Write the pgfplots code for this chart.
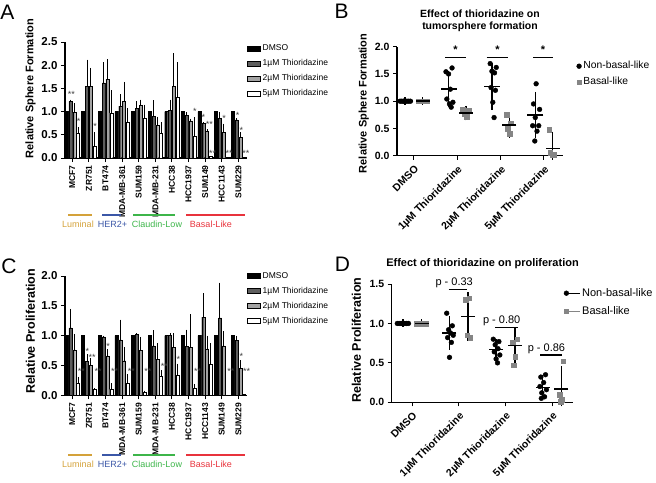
\documentclass[border=0pt]{standalone}
\usepackage{fontspec}
\setmainfont{Liberation Sans}
\newfontfamily\plainsf{Liberation Sans}
\usepackage{pgfplots}
\pgfplotsset{compat=1.18}
\usepackage{pgfplotstable}

\definecolor{g1}{HTML}{5E5E5E}
\definecolor{g2}{HTML}{A3A3A3}
\definecolor{ptgray}{HTML}{858585}
\definecolor{lum}{HTML}{D4A23A}
\definecolor{her}{HTML}{3B57A7}
\definecolor{cla}{HTML}{3DB54A}
\definecolor{bas}{HTML}{E8333C}

\pgfplotsset{
 gp/.style={
   scale only axis, clip=false,
   axis lines=left, axis line style={-, line width=1.1pt},
   tick align=outside, major tick length=4pt,
   tick style={line width=1pt, black},
   /pgf/number format/assume math mode=true,
   /pgf/number format/fixed, /pgf/number format/fixed zerofill, /pgf/number format/precision=1,
   yticklabel style={font=\bfseries\fontsize{11.5}{13}\selectfont},
 },
 barlegend/.style={legend image code/.code={\draw[line width=0.5pt, ##1] (0pt,-2.6pt) rectangle (13pt,2.6pt);}},
}
\tikzset{astk/.style={font=\fontsize{9}{9}\selectfont, text=black!75}}

% Panel A: relative sphere formation (value, error) per cell line
\pgfplotstableread{
g  a  b    be   c    ce   d    de
0  1  1.22 0.04 0.98 0.20 0.54 0.12
1  1  1.54 0.58 1.54 0.40 0.25 0.30
2  1  1.62 0.44 1.70 0.43 0.97 0.49
3  1  1.12 0.25 1.22 0.42 0.78 0.30
4  1  1.07 0.15 1.14 0.12 0.85 0.30
5  1  0.90 0.34 0.71 0.18 0.53 0.24
6  1  1.02 0.24 1.54 0.72 1.30 0.76
7  1  0.92 0.07 0.80 0.05 0.48 0.40
8  1  0.74 0.04 0.58 0.04 0.03 0.00
9  1  0.85 0.15 0.56 0.18 0.02 0.00
10 1  0.82 0.04 0.45 0.10 0.02 0.00
}\tabA

% Panel C: relative proliferation
\pgfplotstableread{
g  a  b    be   c    ce   d    de
0  1  1.13 0.32 0.76 0.27 0.21 0.10
1  1  0.57 0.12 0.50 0.12 0.10 0.02
2  1  0.98 0.02 0.66 0.12 0.10 0.10
3  1  0.93 0.34 0.58 0.23 0.20 0.16
4  1  1.02 0.02 0.75 0.23 0.05 0.03
5  1  0.83 0.26 0.60 0.28 0.32 0.10
6  1  1.00 0.04 0.80 0.24 0.33 0.20
7  1  0.82 0.28 0.80 0.56 0.12 0.07
8  1  1.31 0.40 0.78 0.22 0.52 0.36
9  1  1.30 0.59 0.83 0.24 0.01 0.00
10 1  0.92 0.08 0.45 0.14 0.02 0.00
}\tabC

\begin{document}
\begin{tikzpicture}
\path[use as bounding box] (0,0) rectangle (656pt,-482pt);

% ---------------- Panel A ----------------
\begin{axis}[gp, at={(65pt,-158pt)}, anchor=south west, width=182pt, height=116pt,
 xmin=-0.44, xmax=10.52, ymin=0, ymax=2.5,
 ytick={0,0.5,1,1.5,2,2.5}, xtick={0,...,10},
 xticklabels={MCF7,ZR751,BT474,MDA-MB-361,SUM159,MDA-MB-231,HCC38,HCC1937,SUM149,HCC1143,SUM229},
 xticklabel style={rotate=90, anchor=east, font=\plainsf\bfseries\fontsize{8.5}{9}\selectfont},
 ylabel={Relative Sphere Formation},
 ylabel style={at={(axis description cs:-0.19,0.6)}, anchor=center, font=\plainsf\bfseries\fontsize{11}{13}\selectfont},
 legend style={at={(1.0,1.0)}, anchor=north west, draw=none, fill=none, inner sep=0pt,
   font=\fontsize{8.5}{10}\selectfont, row sep=2.7pt, nodes={text height=6.5pt, text depth=1.8pt, inner sep=2pt}},
 legend cell align=left,
]
\addplot[ybar, bar width=3pt, bar shift=0pt, fill=black, draw=black, line width=0.4pt, barlegend]
  table[x expr=\thisrow{g}-0.345, y=a] {\tabA};
\addplot[ybar, bar width=3pt, bar shift=0pt, fill=g1, draw=black, line width=0.4pt, barlegend,
  error bars/.cd, y dir=plus, y explicit, error mark=none, error bar style={line width=0.8pt, black}]
  table[x expr=\thisrow{g}-0.115, y=b, y error=be] {\tabA};
\addplot[ybar, bar width=3pt, bar shift=0pt, fill=g2, draw=black, line width=0.4pt, barlegend,
  error bars/.cd, y dir=plus, y explicit, error mark=none, error bar style={line width=0.8pt, black}]
  table[x expr=\thisrow{g}+0.115, y=c, y error=ce] {\tabA};
\addplot[ybar, bar width=3pt, bar shift=0pt, fill=white, draw=black, line width=0.4pt, barlegend,
  error bars/.cd, y dir=plus, y explicit, error mark=none, error bar style={line width=0.8pt, black}]
  table[x expr=\thisrow{g}+0.345, y=d, y error=de] {\tabA};
\legend{DMSO, 1µM Thioridazine, 2µM Thioridazine, 5µM Thioridazine}
\node[astk] at (axis cs:-0.05,1.36) {**};
\node[astk] at (axis cs:0.38,0.78) {*};
\node[astk] at (axis cs:1.38,0.68) {*};
\node[astk] at (axis cs:7.38,1.0) {*};
\node[astk] at (axis cs:7.9,0.87) {*};
\node[astk] at (axis cs:8.25,0.72) {**};
\node[astk] at (axis cs:8.45,0.1) {**};
\node[astk] at (axis cs:9.15,0.85) {*};
\node[astk] at (axis cs:9.45,0.1) {**};
\node[astk] at (axis cs:9.95,0.92) {*};
\node[astk] at (axis cs:10.18,0.6) {*};
\node[astk] at (axis cs:10.45,0.1) {**};
\end{axis}

% ---------------- Panel C ----------------
\begin{axis}[gp, at={(65pt,-395.3pt)}, anchor=south west, width=182pt, height=119.3pt,
 xmin=-0.44, xmax=10.52, ymin=0, ymax=2,
 ytick={0,0.5,1,1.5,2}, xtick={0,...,10},
 xticklabels={MCF7,ZR751,BT474,MDA-MB-361,SUM159,MDA-MB-231,HCC38,HCC1937,HCC1143,SUM149,SUM229},
 xticklabel style={rotate=90, anchor=east, font=\plainsf\bfseries\fontsize{8.5}{9}\selectfont},
 ylabel={Relative Proliferation},
 ylabel style={at={(axis description cs:-0.19,0.535)}, anchor=center, font=\plainsf\bfseries\fontsize{12.5}{14}\selectfont},
 legend style={at={(1.0,1.055)}, anchor=north west, draw=none, fill=none, inner sep=0pt,
   font=\fontsize{8.5}{10}\selectfont, row sep=2.7pt, nodes={text height=6.5pt, text depth=1.8pt, inner sep=2pt}},
 legend cell align=left,
]
\addplot[ybar, bar width=3pt, bar shift=0pt, fill=black, draw=black, line width=0.4pt, barlegend]
  table[x expr=\thisrow{g}-0.345, y=a] {\tabC};
\addplot[ybar, bar width=3pt, bar shift=0pt, fill=g1, draw=black, line width=0.4pt, barlegend,
  error bars/.cd, y dir=plus, y explicit, error mark=none, error bar style={line width=0.8pt, black}]
  table[x expr=\thisrow{g}-0.115, y=b, y error=be] {\tabC};
\addplot[ybar, bar width=3pt, bar shift=0pt, fill=g2, draw=black, line width=0.4pt, barlegend,
  error bars/.cd, y dir=plus, y explicit, error mark=none, error bar style={line width=0.8pt, black}]
  table[x expr=\thisrow{g}+0.115, y=c, y error=ce] {\tabC};
\addplot[ybar, bar width=3pt, bar shift=0pt, fill=white, draw=black, line width=0.4pt, barlegend,
  error bars/.cd, y dir=plus, y explicit, error mark=none, error bar style={line width=0.8pt, black}]
  table[x expr=\thisrow{g}+0.345, y=d, y error=de] {\tabC};
\legend{DMSO, 1µM Thioridazine, 2µM Thioridazine, 5µM Thioridazine}
\node[astk] at (axis cs:0.55,0.4) {**};
\node[astk] at (axis cs:0.9,0.74) {*};
\node[astk] at (axis cs:1.2,0.64) {**};
\node[astk] at (axis cs:1.55,0.4) {**};
\node[astk] at (axis cs:2.15,0.82) {*};
\node[astk] at (axis cs:2.55,0.4) {**};
\node[astk] at (axis cs:3.55,0.4) {**};
\node[astk] at (axis cs:4.55,0.4) {**};
\node[astk] at (axis cs:5.55,0.48) {**};
\node[astk] at (axis cs:6.38,0.6) {*};
\node[astk] at (axis cs:7.55,0.4) {**};
\node[astk] at (axis cs:9.55,0.4) {**};
\node[astk] at (axis cs:10.18,0.66) {*};
\node[astk] at (axis cs:10.5,0.4) {**};
\end{axis}

% group bars under A and C
\foreach \yy in {0,240}{
 \draw[lum, line width=1.5pt] (68pt,-215pt-\yy pt) -- (92pt,-215pt-\yy pt);
 \draw[her, line width=1.5pt] (102pt,-215pt-\yy pt) -- (121pt,-215pt-\yy pt);
 \draw[cla, line width=1.5pt] (133pt,-215pt-\yy pt) -- (175pt,-215pt-\yy pt);
 \draw[bas, line width=1.5pt] (186pt,-215pt-\yy pt) -- (245pt,-215pt-\yy pt);
 \node[text=lum, font=\fontsize{9}{10}\selectfont] at (78pt,-224.5pt-\yy pt) {Luminal};
 \node[text=her, font=\fontsize{9}{10}\selectfont] at (112.5pt,-224.5pt-\yy pt) {HER2+};
 \node[text=cla, font=\fontsize{9}{10}\selectfont] at (157pt,-224.5pt-\yy pt) {Claudin-Low};
 \node[text=bas, font=\fontsize{9}{10}\selectfont] at (211pt,-224.5pt-\yy pt) {Basal-Like};
}

% ---------------- Panel B ----------------
\begin{axis}[gp, at={(397pt,-155.7pt)}, anchor=south west, width=166pt, height=109pt,
 xmin=-0.39, xmax=3.44, ymin=0, ymax=2,
 ytick={0,0.5,1,1.5,2}, xtick={0,1,2,3},
 yticklabel style={font=\bfseries\fontsize{10.5}{12}\selectfont},
 xticklabels={DMSO, 1µM Thioridazine, 2µM Thioridazine, 5µM Thioridazine},
 xticklabel style={rotate=45, anchor=north east, font=\plainsf\bfseries\fontsize{10.5}{12}\selectfont},
 ylabel={Relative Sphere Formation},
 ylabel style={at={(axis description cs:-0.2,0.48)}, anchor=center, font=\plainsf\bfseries\fontsize{11}{13}\selectfont},
 legend style={at={(1.08,0.885)}, anchor=north west, draw=none, fill=none, inner sep=0pt,
   font=\fontsize{10.3}{12}\selectfont, row sep=2.5pt, nodes={text height=7.5pt, text depth=2pt, inner sep=2pt}},
 legend cell align=left,
 legend image code/.code={\path (0pt,0pt) -- (2.5pt,0pt); \draw[#1] plot coordinates {(2.4pt,0pt)};},
]
\addplot[only marks, mark=*, mark size=2.4pt, black] coordinates {
 (-0.32,1) (-0.28,1) (-0.24,1) (-0.2,1) (-0.16,1) (-0.12,1) (-0.08,1) (-0.22,1)
 (0.74,1.54) (0.88,1.61) (0.80,1.50) (0.84,1.22) (0.76,1.04) (0.90,0.98) (0.82,0.95) (0.86,0.89)
 (1.76,1.69) (1.90,1.62) (1.80,1.55) (1.86,1.52) (1.78,1.25) (1.88,1.20) (1.82,0.98) (1.85,0.70)
 (2.82,1.32) (2.76,0.95) (2.90,0.85) (2.80,0.70) (2.74,0.55) (2.88,0.55) (2.84,0.45) (2.79,0.27)
};
\addlegendentry{Non-basal-like}
\addplot[only marks, mark=square*, mark size=2.3pt, ptgray] coordinates {
 (0.1,1) (0.17,1) (0.24,1) (0.3,1)
 (1.13,0.85) (1.26,0.83) (1.16,0.76) (1.22,0.72)
 (2.14,0.75) (2.24,0.60) (2.17,0.50) (2.21,0.40)
 (3.12,0.48) (3.14,0.05) (3.24,0.02) (3.2,0.01)
};
\addlegendentry{Basal-like}
\addplot[forget plot, only marks, black, mark=-, mark size=8pt, mark options={line width=1.5pt},
  error bars/.cd, y dir=both, y explicit, error bar style={line width=1.5pt, black},
  error mark=-, error mark options={line width=1.5pt, mark size=4pt, black}]
  coordinates {(-0.2,1) +- (0,0) (0.8,1.22) +- (0,0.26) (1.8,1.27) +- (0,0.35) (2.8,0.75) +- (0,0.35)};
\addplot[forget plot, only marks, black, mark=-, mark size=7pt, mark options={line width=1.5pt},
  error bars/.cd, y dir=both, y explicit, error bar style={line width=1.5pt, black},
  error mark=-, error mark options={line width=1.5pt, mark size=4pt, black}]
  coordinates {(0.2,1) +- (0,0) (1.2,0.78) +- (0,0.06) (2.2,0.56) +- (0,0.16) (3.2,0.13) += (0,0.24) -= (0,0.13)};
\draw[line width=1.6pt] (axis cs:0.72,1.8) -- (axis cs:1.2,1.8);
\draw[line width=1.6pt] (axis cs:1.68,1.8) -- (axis cs:2.18,1.8);
\draw[line width=1.6pt] (axis cs:2.75,1.8) -- (axis cs:3.2,1.8);
\node[anchor=base, font=\bfseries\fontsize{11}{11}\selectfont] at (axis cs:0.96,1.88) {*};
\node[anchor=base, font=\bfseries\fontsize{11}{11}\selectfont] at (axis cs:1.93,1.88) {*};
\node[anchor=base, font=\bfseries\fontsize{11}{11}\selectfont] at (axis cs:2.98,1.88) {*};
\end{axis}

% ---------------- Panel D ----------------
\begin{axis}[gp, at={(391.7pt,-402.3pt)}, anchor=south west, width=181.3pt, height=118.3pt,
 xmin=-0.44, xmax=3.45, ymin=0, ymax=1.5,
 ytick={0,0.5,1,1.5}, xtick={0,1,2,3},
 yticklabel style={font=\bfseries\fontsize{10.5}{12}\selectfont},
 xticklabels={DMSO, 1µM Thioridazine, 2µM Thioridazine, 5µM Thioridazine},
 xticklabel style={rotate=45, anchor=north east, font=\plainsf\bfseries\fontsize{10.5}{12}\selectfont},
 ylabel={Relative Proliferation},
 ylabel style={at={(axis description cs:-0.195,0.527)}, anchor=center, font=\plainsf\bfseries\fontsize{12.5}{14}\selectfont},
 legend style={at={(0.948,0.984)}, anchor=north west, draw=none, fill=none, inner sep=0pt,
   font=\fontsize{11}{12}\selectfont, row sep=3.8pt, nodes={text height=8pt, text depth=2.2pt, inner sep=2pt}},
 legend cell align=left,
 legend image code/.code={\path (0pt,0pt) -- (16pt,0pt); \draw[#1] plot coordinates {(2.4pt,0pt)};},
]
\addplot[only marks, mark=*, mark size=2.4pt, black] coordinates {
 (-0.32,1) (-0.28,1) (-0.24,1) (-0.2,1) (-0.16,1) (-0.12,1) (-0.08,1) (-0.22,1)
 (0.74,1.13) (0.86,0.97) (0.78,0.92) (0.82,0.88) (0.88,0.85) (0.76,0.82) (0.84,0.76) (0.80,0.57)
 (1.74,0.80) (1.86,0.77) (1.78,0.73) (1.84,0.68) (1.76,0.64) (1.88,0.60) (1.80,0.55) (1.83,0.50)
 (2.86,0.35) (2.76,0.32) (2.82,0.25) (2.74,0.20) (2.88,0.16) (2.78,0.12) (2.84,0.07) (2.77,0.05)
};
\addlegendentry{Non-basal-like}
\addplot[only marks, mark=square*, mark size=2.3pt, ptgray] coordinates {
 (0.1,1) (0.17,1) (0.24,1) (0.3,1)
 (1.22,1.32) (1.15,1.30) (1.18,0.85) (1.24,0.82)
 (2.25,0.80) (2.16,0.76) (2.21,0.58) (2.18,0.47)
 (3.24,0.52) (3.16,0.10) (3.21,0.03) (3.18,0.01)
};
\addlegendentry{Basal-like}
\addplot[forget plot, only marks, black, mark=-, mark size=7pt, mark options={line width=1.5pt},
  error bars/.cd, y dir=both, y explicit, error bar style={line width=1.5pt, black},
  error mark=-, error mark options={line width=1.5pt, mark size=4pt, black}]
  coordinates {(-0.2,1) +- (0,0) (0.8,0.88) +- (0,0.16) (1.8,0.67) +- (0,0.08) (2.8,0.19) +- (0,0.1)};
\addplot[forget plot, only marks, black, mark=-, mark size=7pt, mark options={line width=1.5pt},
  error bars/.cd, y dir=both, y explicit, error bar style={line width=1.5pt, black},
  error mark=-, error mark options={line width=1.5pt, mark size=4pt, black}]
  coordinates {(0.2,1) +- (0,0) (1.2,1.09) +- (0,0.26) (2.2,0.72) +- (0,0.17) (3.2,0.17) += (0,0.24) -= (0,0.17)};
\draw[line width=1.6pt] (axis cs:0.78,1.43) -- (axis cs:1.17,1.43);
\draw[line width=1.6pt] (axis cs:1.78,0.95) -- (axis cs:2.28,0.95);
\draw[line width=1.6pt] (axis cs:2.75,0.6) -- (axis cs:3.21,0.6);
\node[anchor=base, font=\fontsize{11}{12}\selectfont] at (axis cs:0.9,1.475) {p - 0.33};
\node[anchor=base, font=\fontsize{11}{12}\selectfont] at (axis cs:1.92,1.0) {p - 0.80};
\node[anchor=base, font=\fontsize{11}{12}\selectfont] at (axis cs:2.88,0.65) {p - 0.86};
\end{axis}

% titles and panel letters
\node[font=\bfseries\fontsize{10.5}{11.5}\selectfont, align=center] at (480pt,-21pt) {Effect of thioridazine on\\tumorsphere formation};
\node[font=\bfseries\fontsize{11}{12}\selectfont] at (482.5pt,-263.3pt) {Effect of thioridazine on proliferation};
\node[font=\plainsf\fontsize{21}{21}\selectfont] at (7.5pt,-12.5pt) {A};
\node[font=\plainsf\fontsize{21}{21}\selectfont] at (341.5pt,-11.5pt) {B};
\node[font=\plainsf\fontsize{21}{21}\selectfont] at (9pt,-266.5pt) {C};
\node[font=\plainsf\fontsize{21}{21}\selectfont] at (342.5pt,-264pt) {D};
\end{tikzpicture}
\end{document}
